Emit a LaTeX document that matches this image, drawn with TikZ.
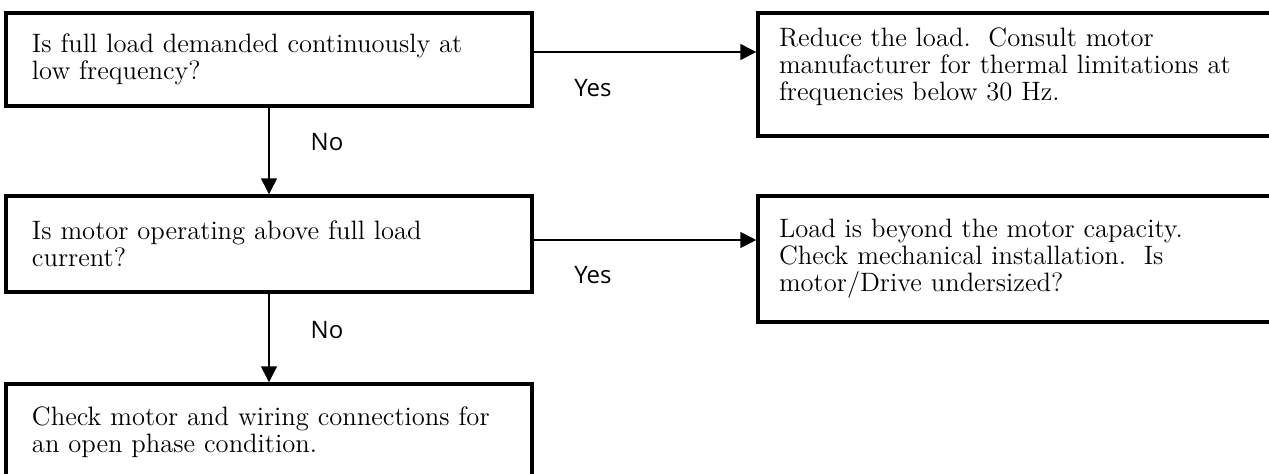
\documentclass[tikz,border=0pt]{standalone}
\usepackage{fontspec}
\newfontfamily\lblfont{Open Sans}
\usetikzlibrary{arrows.meta}
\begin{document}
\begin{tikzpicture}[x=0.5pt,y=-0.5pt,
  box/.style={draw, line width=1.75pt, rectangle, inner ysep=0pt, align=left,
    font=\fontsize{13.3}{13.5}\selectfont\addfontfeature{FakeBold=1}},
  lbox/.style={box, minimum width=263pt, text width=237pt, inner xsep=13pt},
  rbox/.style={box, minimum width=271pt, text width=250pt, inner xsep=10.5pt},
  conn/.style={line width=0.8pt, -{Triangle[length=8pt,width=8pt]}},
  lbl/.style={font=\lblfont\fontsize{12}{13}\selectfont, inner sep=0pt}]
\useasboundingbox (0,0) rectangle (1269,473);
\clip (0,0) rectangle (1269,473);
\node[lbox, minimum height=46.5pt] (b1) at (269,59.5)
  {Is full load demanded continuously at\\low frequency?};
\node[lbox, minimum height=48pt] (b3) at (269,244)
  {Is motor operating above full load\\current?};
\node[lbox, minimum height=48pt] (b5) at (269,432)
  {Check motor and wiring connections for\\an open phase condition.};
\node[rbox, minimum height=61.5pt] (r1) at (1029,74.5)
  {\raisebox{4pt}[\height][\depth]{\parbox{250pt}{\raggedright
   Reduce the load.~~Consult motor\\manufacturer for thermal limitations at\\frequencies below 30~Hz.}}};
\node[rbox, minimum height=63pt] (r2) at (1029,259)
  {Load is beyond the motor capacity.\\Check mechanical installation.~~Is\\motor/Drive undersized?};
\draw[conn] ([yshift=3.75pt]b1.east) -- ([yshift=3.75pt]b1.east -| r1.west);
\draw[conn] ([yshift=2pt]b3.east) -- ([yshift=2pt]b3.east -| r2.west);
\draw[conn] (b1.south) -- (b3.north);
\draw[conn] (b3.south) -- (b5.north);
\node[lbl] (yes1) at (593,88) {Yes};
\node[lbl] (yes2) at (593,275) {Yes};
\node[lbl] (no1) at (327,142) {No};
\node[lbl] (no2) at (327,330) {No};
\end{tikzpicture}
\end{document}
